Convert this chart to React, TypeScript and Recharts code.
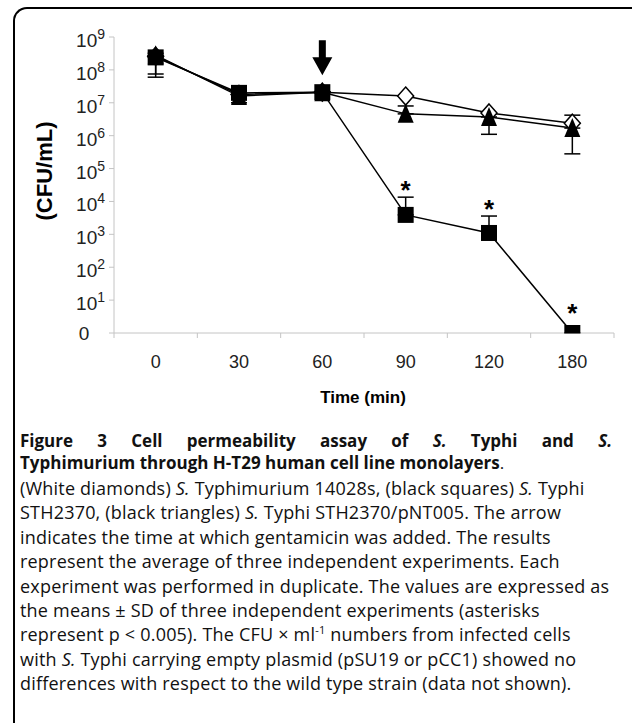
import React from "react";
import {
  LineChart,
  Line,
  XAxis,
  YAxis,
  ErrorBar,
  LabelList,
  ReferenceDot,
} from "recharts";

/* ─── Datos ───────────────────────────────────────────────────────────────── */

const times = ["0", "30", "60", "90", "120", "180"];

// S. Typhimurium 14028s (rombos blancos)
const typhimurium = [2.6e8, 1.8e7, 2.1e7, 1.6e7, 4.9e6, 2.4e6];
const typhimuriumErrDown = [0, 0, 0, 0, 0, 0];
const typhimuriumErrUp = [0, 0, 0, 0, 0, 1.8e6];

// S. Typhi STH2370/pNT005 (triángulos negros)
const typhiPnt = [2.8e8, 1.6e7, 2.1e7, 4.6e6, 3.7e6, 1.7e6];
const typhiPntErrDown = [2.2e8, 6e6, 0, 0, 2.6e6, 1.42e6];
const typhiPntErrUp = [4e7, 0, 0, 3.4e6, 0, 0];

// S. Typhi STH2370 (cuadrados negros)
const typhi = [2.4e8, 2.0e7, 2.1e7, 3.9e3, 1.1e3, 1];
const typhiErrDown = [1.65e8, 4e6, 0, 0, 0, 0];
const typhiErrUp = [0, 5e6, 0, 9.6e3, 2.5e3, 0];
const typhiSignificant = [false, false, false, true, true, true];

const yTicks = [1, 1e1, 1e2, 1e3, 1e4, 1e5, 1e6, 1e7, 1e8, 1e9];
const gentamicinTime = "60";

const data = times.map((t, i) => ({
  time: t,
  diamond: typhimurium[i],
  diamondErr: [typhimuriumErrDown[i], typhimuriumErrUp[i]],
  triangle: typhiPnt[i],
  triangleErr: [typhiPntErrDown[i], typhiPntErrUp[i]],
  square: typhi[i],
  squareErr: [typhiErrDown[i], typhiErrUp[i]],
  starAt: typhiSignificant[i] ? typhi[i] + typhiErrUp[i] : null,
}));

/* ─── Geometría ───────────────────────────────────────────────────────────── */

const CHART_W = 632;
const CHART_H = 380;
const MARGIN = { top: 37, right: 18, bottom: 0, left: 14 };
const Y_AXIS_W = 100;
const X_AXIS_H = 47;
const BAND = (CHART_W - MARGIN.left - MARGIN.right - Y_AXIS_W) / times.length;
const AXIS_GRAY = "#c4c4c4";
const FONT = "'Liberation Sans', Arial, Helvetica, sans-serif";

/* ─── Ticks y marcadores ──────────────────────────────────────────────────── */

function YTick({ x, y, payload }: any) {
  const exp = Math.round(Math.log10(payload.value));
  if (exp === 0) {
    return (
      <text x={x - 23} y={y + 7} textAnchor="middle" fontSize={19} fill="#222" fontFamily={FONT}>
        0
      </text>
    );
  }
  return (
    <text x={x - 2} y={y + 10} textAnchor="end" fontSize={19} fill="#222" fontFamily={FONT}>
      10
      <tspan dy={-8} fontSize={14}>
        {exp}
      </tspan>
    </text>
  );
}

function XTick({ x, y, payload, index }: any) {
  const left = x - BAND / 2;
  return (
    <g>
      <line x1={left} y1={y} x2={left} y2={y + 5} stroke={AXIS_GRAY} />
      {index === times.length - 1 && (
        <line x1={x + BAND / 2} y1={y} x2={x + BAND / 2} y2={y + 5} stroke={AXIS_GRAY} />
      )}
      <text x={x} y={y + 35} textAnchor="middle" fontSize={18} fill="#222" fontFamily={FONT}>
        {payload.value}
      </text>
    </g>
  );
}

const squareDot = ({ cx, cy, index }: any) => (
  <rect key={`sq-${index}`} x={cx - 8} y={cy - 8} width={16} height={16} fill="#000" />
);

const diamondDot = ({ cx, cy, index }: any) => (
  <polygon
    key={`di-${index}`}
    points={`${cx},${cy - 9} ${cx + 8},${cy} ${cx},${cy + 9} ${cx - 8},${cy}`}
    fill="#fff"
    stroke="#000"
    strokeWidth={1.5}
  />
);

const triangleDot = ({ cx, cy, index }: any) => (
  <polygon
    key={`tr-${index}`}
    points={`${cx},${cy - 10} ${cx + 8},${cy + 9} ${cx - 8},${cy + 9}`}
    fill="#000"
  />
);

function Star({ x, y, value, index }: any) {
  if (value == null) return null;
  // sin barra de error, el asterisco debe librar el marcador
  const lift = typhiErrUp[index] ? 0 : 13;
  return (
    <text
      x={x}
      y={y + 2 - lift}
      textAnchor="middle"
      fontSize={26}
      fontWeight="bold"
      fill="#000"
      fontFamily={FONT}
    >
      *
    </text>
  );
}

function Arrow({ cx, cy }: any) {
  const tip = cy - 17;
  return (
    <polygon
      points={[
        [cx - 3.5, tip - 35],
        [cx + 3.5, tip - 35],
        [cx + 3.5, tip - 18],
        [cx + 10, tip - 18],
        [cx, tip],
        [cx - 10, tip - 18],
        [cx - 3.5, tip - 18],
      ]
        .map((p) => p.join(","))
        .join(" ")}
      fill="#000"
    />
  );
}

/* ─── Componente principal ────────────────────────────────────────────────── */

const italicS = <i>S.</i>;

export default function App() {
  const body = {
    position: "absolute" as const,
    left: 20,
    whiteSpace: "nowrap" as const,
    fontSize: 18,
    letterSpacing: 0.2,
    lineHeight: "24px",
  };
  const bodyLines: React.ReactNode[] = [
    <>(White diamonds) {italicS} Typhimurium 14028s, (black squares) {italicS} Typhi</>,
    <>STH2370, (black triangles) {italicS} Typhi STH2370/pNT005. The arrow</>,
    <>indicates the time at which gentamicin was added. The results</>,
    <>represent the average of three independent experiments. Each</>,
    <>experiment was performed in duplicate. The values are expressed as</>,
    <>the means ± SD of three independent experiments (asterisks</>,
    <>
      represent p &lt; 0.005). The CFU × ml
      <span style={{ fontSize: 11, position: "relative", top: -7 }}>-1</span> numbers from infected cells
    </>,
    <>with {italicS} Typhi carrying empty plasmid (pSU19 or pCC1) showed no</>,
    <>differences with respect to the wild type strain (data not shown).</>,
  ];

  return (
    <div
      style={{
        position: "absolute",
        left: 0,
        top: 0,
        width: 632,
        height: 723,
        background: "#fff",
        overflow: "hidden",
        fontFamily: "'Open Sans', sans-serif",
        color: "#111",
      }}
    >
      <div
        style={{
          position: "absolute",
          left: 13,
          top: 7,
          width: 630,
          height: 730,
          borderLeft: "2px solid #000",
          borderTop: "2px solid #000",
          borderTopLeftRadius: 14,
        }}
      />

      <div style={{ position: "absolute", left: 0, top: 0 }}>
        <LineChart width={CHART_W} height={CHART_H} data={data} margin={MARGIN}>
          <XAxis
            dataKey="time"
            scale="band"
            height={X_AXIS_H}
            tickLine={false}
            tickSize={0}
            tickMargin={0}
            axisLine={{ stroke: AXIS_GRAY }}
            tick={<XTick />}
            interval={0}
          />
          <YAxis
            scale="log"
            domain={[1, 1e9]}
            ticks={yTicks}
            width={Y_AXIS_W}
            allowDataOverflow
            axisLine={{ stroke: AXIS_GRAY }}
            tickLine={{ stroke: AXIS_GRAY }}
            tickSize={5}
            tick={<YTick />}
            interval={0}
          />

          <Line
            dataKey="diamond"
            stroke="#000"
            strokeWidth={1.5}
            dot={diamondDot}
            activeDot={false}
            isAnimationActive={false}
          >
            <ErrorBar dataKey="diamondErr" width={8} stroke="#000" strokeWidth={1.5} direction="y" />
          </Line>

          <Line
            dataKey="triangle"
            stroke="#000"
            strokeWidth={1.5}
            dot={triangleDot}
            activeDot={false}
            isAnimationActive={false}
          >
            <ErrorBar dataKey="triangleErr" width={8} stroke="#000" strokeWidth={1.5} direction="y" />
          </Line>

          <Line
            dataKey="square"
            stroke="#000"
            strokeWidth={1.5}
            dot={squareDot}
            activeDot={false}
            isAnimationActive={false}
          >
            <ErrorBar dataKey="squareErr" width={8} stroke="#000" strokeWidth={1.5} direction="y" />
          </Line>

          {/* Asteriscos de significancia sobre el extremo de la barra de error */}
          <Line
            dataKey="starAt"
            stroke="none"
            dot={false}
            activeDot={false}
            isAnimationActive={false}
          >
            <LabelList dataKey="starAt" content={<Star />} />
          </Line>

          {/* Flecha: momento en que se añade gentamicina */}
          <ReferenceDot
            x={gentamicinTime}
            y={typhi[times.indexOf(gentamicinTime)]}
            r={0}
            shape={<Arrow />}
          />
        </LineChart>
      </div>

      <div
        style={{
          position: "absolute",
          left: 45,
          top: 171,
          transform: "translate(-50%, -50%) rotate(-90deg)",
          fontFamily: FONT,
          fontWeight: "bold",
          fontSize: 22,
          whiteSpace: "nowrap",
          color: "#000",
        }}
      >
        (CFU/mL)
      </div>

      <div
        style={{
          position: "absolute",
          left: 363,
          top: 398,
          transform: "translate(-50%, -50%)",
          fontFamily: FONT,
          fontWeight: "bold",
          fontSize: 17,
          whiteSpace: "nowrap",
          color: "#000",
        }}
      >
        Time (min)
      </div>

      <div
        style={{
          position: "absolute",
          left: 20,
          top: 430,
          width: 592,
          fontWeight: "bold",
          fontSize: 17,
          lineHeight: "22px",
          textAlign: "justify",
          textAlignLast: "justify",
          whiteSpace: "nowrap",
        }}
      >
        Figure 3 Cell permeability assay of {italicS} Typhi and {italicS}
      </div>
      <div
        style={{
          position: "absolute",
          left: 20,
          top: 452,
          fontWeight: "bold",
          fontSize: 17,
          lineHeight: "22px",
          whiteSpace: "nowrap",
        }}
      >
        Typhimurium through H-T29 human cell line monolayers<span style={{ fontWeight: "normal" }}>.</span>
      </div>

      {bodyLines.map((line, i) => (
        <div key={i} style={{ ...body, top: 476 + i * 24.4 }}>
          {line}
        </div>
      ))}
    </div>
  );
}
